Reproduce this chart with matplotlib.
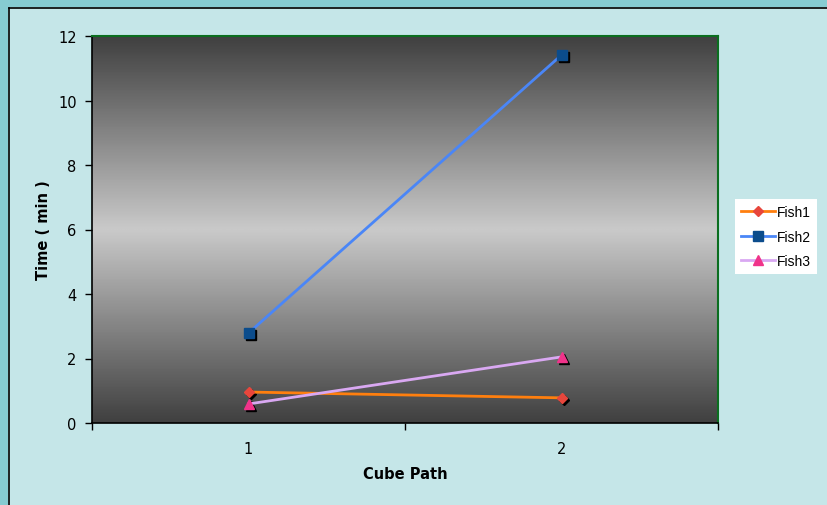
import numpy as np
import matplotlib
matplotlib.use("Agg")
import matplotlib.pyplot as plt
import matplotlib.transforms as mtransforms
from matplotlib.patches import Rectangle
from matplotlib.lines import Line2D

# Data
categories = ["1", "2"]
fish1 = [0.96, 0.78]
fish2 = [2.79, 11.41]
fish3 = [0.59, 2.05]
series_names = ["Fish1", "Fish2", "Fish3"]
y_ticks = [0, 2, 4, 6, 8, 10, 12]

W, H = 828, 506
fig = plt.figure(figsize=(W / 100, H / 100), dpi=100)
fig.patch.set_facecolor("#C5E6E8")

# Teal outer strips on the top and left, with a black edge around the panel
teal = "#86CBD1"
fig.patches.append(Rectangle((0, 1 - 8 / H), 1, 8 / H, transform=fig.transFigure,
                             facecolor=teal, edgecolor="none", zorder=-10))
fig.patches.append(Rectangle((0, 0), 8 / W, 1, transform=fig.transFigure,
                             facecolor=teal, edgecolor="none", zorder=-10))
fig.lines.append(Line2D([8.5 / W, 1], [1 - 8.5 / H, 1 - 8.5 / H], transform=fig.transFigure,
                        color="black", linewidth=1.2, zorder=-9))
fig.lines.append(Line2D([8.5 / W, 8.5 / W], [0, 1 - 8.5 / H], transform=fig.transFigure,
                        color="black", linewidth=1.2, zorder=-9))

ax = fig.add_axes([92 / W, (H - 424) / H, 626 / W, 387 / H])
ax.set_xlim(0, 2)
ax.set_ylim(0, 12)

# Gradient background: dark at top and bottom, light in the middle
t = np.linspace(0, 1, 256)
v = 0.25 + (0.79 - 0.25) * (1 - np.abs(t - 0.5) * 2)
grad = np.repeat(v[:, None], 2, axis=1)
ax.imshow(grad, cmap="gray", vmin=0, vmax=1, extent=[0, 2, 0, 12], aspect="auto",
          origin="lower", zorder=0, interpolation="bilinear")

xpos = np.arange(len(categories)) + 0.5
styles = [
    (fish1, "#FF7F0E", "D", "#E8463C", 5.5),
    (fish2, "#4A86F7", "s", "#0B4C8C", 6.5),
    (fish3, "#D9A8F2", "^", "#F0338A", 7),
]
shadow = mtransforms.offset_copy(ax.transData, fig=fig, x=2, y=-2, units="dots")
handles = []
for (vals, lc, mk, mc, ms), name in zip(styles, series_names):
    ax.plot(xpos, vals, linestyle="none", marker=mk, markersize=ms, color="black",
            transform=shadow, zorder=2)
    h, = ax.plot(xpos, vals, color=lc, linewidth=2, marker=mk, markersize=ms,
                 markerfacecolor=mc, markeredgecolor=mc, zorder=3, label=name)
    handles.append(h)

# Axes styling
for s in ["top", "right"]:
    ax.spines[s].set_color("#0B6E1F")
    ax.spines[s].set_linewidth(1.5)
for s in ["left", "bottom"]:
    ax.spines[s].set_color("black")
    ax.spines[s].set_linewidth(1.2)

fs = 10.5
ax.set_yticks(y_ticks)
ax.set_yticklabels([str(v) for v in y_ticks], fontsize=fs, fontfamily="DejaVu Sans")
ax.set_xticks([0, 1, 2])
ax.set_xticklabels([])
ax.set_xticks(xpos, minor=True)
ax.set_xticklabels(categories, minor=True, fontsize=fs, fontfamily="DejaVu Sans")
ax.tick_params(axis="x", which="minor", length=0, pad=13)
ax.tick_params(axis="x", which="major", length=5, direction="out", width=1)
ax.tick_params(axis="y", length=5, direction="out", width=1, pad=6)

ax.set_ylabel("Time ( min )", fontsize=fs, fontweight="bold", fontfamily="DejaVu Sans", labelpad=5)
ax.set_xlabel("Cube Path", fontsize=fs, fontweight="bold", fontfamily="DejaVu Sans", labelpad=7)

leg = fig.legend(handles=handles, loc="upper left", bbox_to_anchor=(735 / W, 1 - 200 / H),
                 frameon=True, fancybox=False, edgecolor="white", facecolor="white",
                 framealpha=1, prop={"family": "Liberation Sans", "size": 10},
                 handlelength=2.4, handletextpad=0.15, labelspacing=0.75, borderpad=0.45,
                 borderaxespad=0)
leg.get_frame().set_linewidth(0)

fig.savefig("out.png", dpi=100, facecolor=fig.get_facecolor())
